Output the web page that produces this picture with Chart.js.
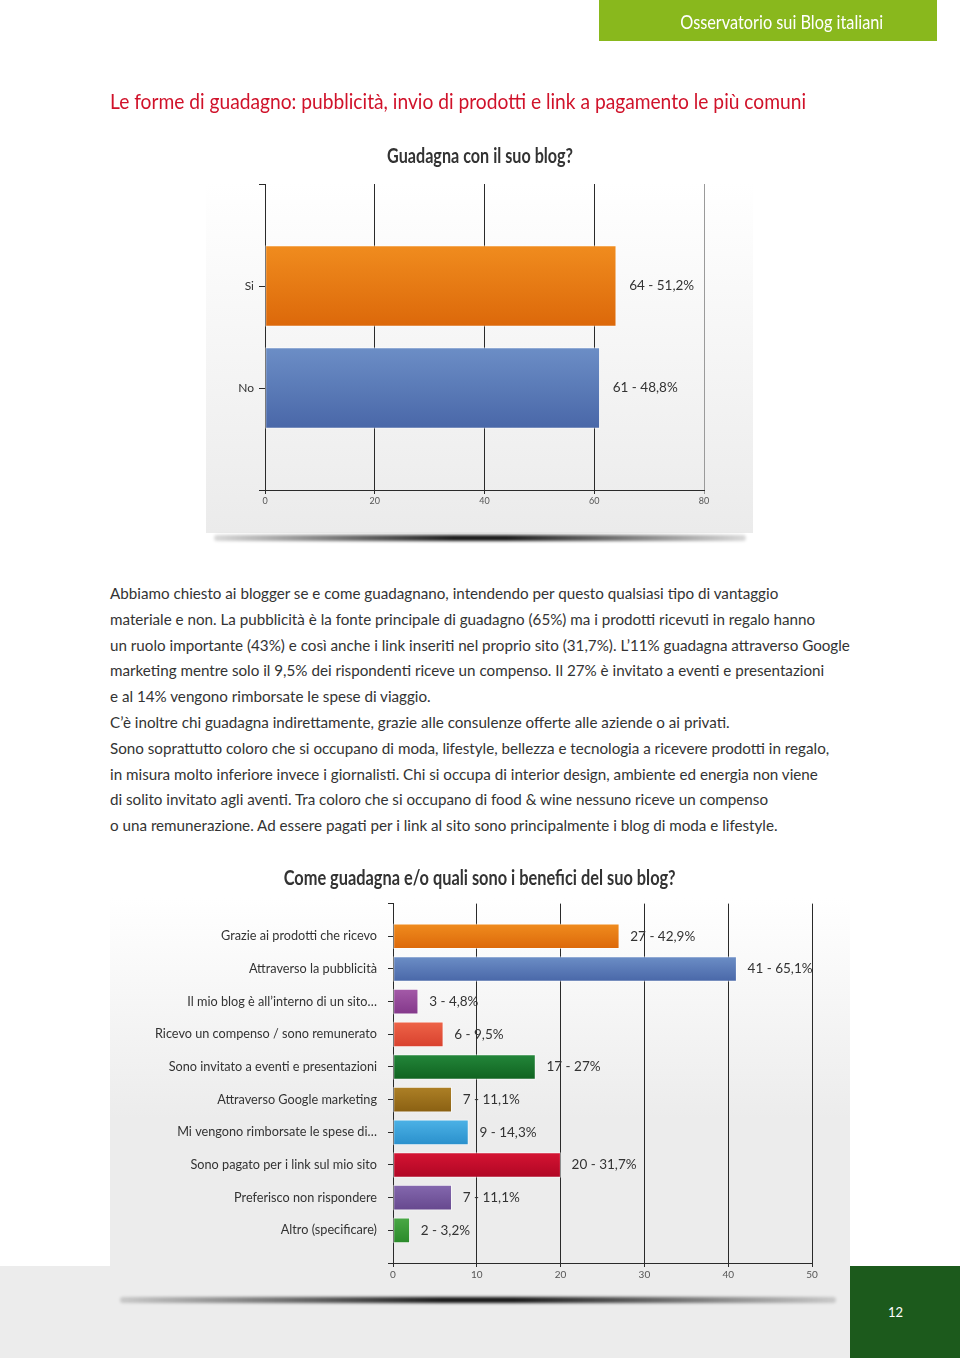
<!DOCTYPE html>
<html>
<head>
<meta charset="utf-8">
<script src="https://cdn.jsdelivr.net/npm/chart.js@4/dist/chart.umd.min.js"></script>
<style>
  html, body { margin: 0; padding: 0; }
  body { width: 960px; height: 1358px; position: relative; background: #fff; overflow: hidden;
         font-family: Lato, "Open Sans", sans-serif; color: #333; }
  .abs { position: absolute; }
  .fit { display: inline-block; white-space: nowrap; }
  #header { left: 599px; top: 0; width: 338px; height: 41px; background: #89b81d; }
  #header span { position: absolute; right: 54px; top: 9px; color: #fff; font-size: 20px; transform-origin: right center; }
  #title { left: 110px; top: 88px; color: #d0122a; font-size: 21px; transform-origin: left center; }
  .ctitle { width: 960px; left: 0; text-align: center; }
  .ctitle span { font-weight: bold; font-size: 20px; color: #333; transform-origin: center center; }
  .panel { background: linear-gradient(#ffffff, #ebebeb); }
  .shadow { height: 6px; background: linear-gradient(90deg, rgba(0,0,0,0.15), rgba(0,0,0,0.9) 45%, rgba(0,0,0,0.9) 55%, rgba(0,0,0,0.15)); filter: blur(1.5px); border-radius: 3px; }
  #text { left: 110px; top: 581px; font-size: 15.2px; line-height: 25.8px; white-space: nowrap; color: #333; }
  #band { left: 0; top: 1266px; width: 960px; height: 92px; background: #ececec; }
  #pagebox { left: 850px; top: 1266px; width: 110px; height: 92px; background: #1c5a1c; color: #fff; font-size: 13px; }
  #pagebox span { position: absolute; left: 38px; top: 38px; }
  canvas { position: absolute; }
</style>
</head>
<body>
<div id="header" class="abs"><span class="fit" data-w="203">Osservatorio sui Blog italiani</span></div>
<div id="title" class="abs fit" data-w="696">Le forme di guadagno: pubblicità, invio di prodotti e link a pagamento le più comuni</div>

<div class="abs ctitle" style="top:143px"><span class="fit" data-w="186">Guadagna con il suo blog?</span></div>
<div class="abs panel" style="left:206px; top:183px; width:547px; height:350px"></div>
<div class="abs shadow" style="left:214px; top:535px; width:532px"></div>
<canvas id="blogChart" width="547" height="363" style="left:206px; top:170px"></canvas>

<div id="text" class="abs">
Abbiamo chiesto ai blogger se e come guadagnano, intendendo per questo qualsiasi tipo di vantaggio<br>
materiale e non. La pubblicità è la fonte principale di guadagno (65%) ma i prodotti ricevuti in regalo hanno<br>
un ruolo importante (43%) e così anche i link inseriti nel proprio sito (31,7%). L’11% guadagna attraverso Google<br>
marketing mentre solo il 9,5% dei rispondenti riceve un compenso. Il 27% è invitato a eventi e presentazioni<br>
e al 14% vengono rimborsate le spese di viaggio.<br>
C’è inoltre chi guadagna indirettamente, grazie alle consulenze offerte alle aziende o ai privati.<br>
Sono soprattutto coloro che si occupano di moda, lifestyle, bellezza e tecnologia a ricevere prodotti in regalo,<br>
in misura molto inferiore invece i giornalisti. Chi si occupa di interior design, ambiente ed energia non viene<br>
di solito invitato agli aventi. Tra coloro che si occupano di food &amp; wine nessuno riceve un compenso<br>
o una remunerazione. Ad essere pagati per i link al sito sono principalmente i blog di moda e lifestyle.
</div>

<div class="abs ctitle" style="top:865px"><span class="fit" data-w="392">Come guadagna e/o quali sono i benefici del suo blog?</span></div>
<div id="band" class="abs"></div>
<div class="abs panel" style="left:110px; top:898px; width:740px; height:368px; background: linear-gradient(#ffffff, #ececec 60%, #ececec)"></div>
<div class="abs shadow" style="left:120px; top:1297px; width:716px"></div>
<canvas id="benefitChart" width="740" height="405" style="left:110px; top:885px"></canvas>
<div id="pagebox" class="abs"><span>12</span></div>

<script>
// dati: prima domanda
const blogAnswers = ['Si', 'No'];
const blogCounts = [64, 61];
const blogShares = ['51,2%', '48,8%'];
const blogTicks = [0, 20, 40, 60, 80];

// dati: seconda domanda
const benefitLabels = [
  'Grazie ai prodotti che ricevo',
  'Attraverso la pubblicità',
  'Il mio blog è all’interno di un sito…',
  'Ricevo un compenso / sono remunerato',
  'Sono invitato a eventi e presentazioni',
  'Attraverso Google marketing',
  'Mi vengono rimborsate le spese di…',
  'Sono pagato per i link sul mio sito',
  'Preferisco non rispondere',
  'Altro (specificare)'
];
const benefitCounts = [27, 41, 3, 6, 17, 7, 9, 20, 7, 2];
const benefitShares = ['42,9%', '65,1%', '4,8%', '9,5%', '27%', '11,1%', '14,3%', '31,7%', '11,1%', '3,2%'];
const benefitTicks = [0, 10, 20, 30, 40, 50];

// colori (alto, basso) per il gradiente delle barre
const blogColors = [['#f08c1e', '#dc680a'], ['#6c8ec6', '#4967a8']];
const benefitColors = [
  ['#f08c1e', '#dc680a'], ['#6c8ec6', '#4967a8'], ['#a45aa8', '#83388a'],
  ['#ee6448', '#d8412e'], ['#23863a', '#106320'], ['#ad8026', '#8a6012'],
  ['#4cb2e6', '#2a90cc'], ['#d51433', '#b00624'], ['#8468ae', '#66488e'],
  ['#4aa845', '#2a8a2a']
];

// i titoli sono in un font condensato: li stringo alla larghezza dell'originale
document.querySelectorAll('.fit').forEach(el => {
  const w = el.getBoundingClientRect().width;
  el.style.transform = 'scaleX(' + (el.dataset.w / w) + ')';
});

// le etichette vuote servono a lasciare spazio sopra e sotto le barre
function pad(arr, fill) { return [fill].concat(arr, [fill]); }

function barFill(colors, thickness) {
  return (c) => {
    const col = colors[c.dataIndex];
    if (!col) return 'transparent';
    const chart = c.chart;
    const y = chart.scales.y;
    if (!chart.chartArea || !y) return col[0];
    const py = y.getPixelForValue(c.dataIndex);
    const g = chart.ctx.createLinearGradient(0, py - thickness / 2, 0, py + thickness / 2);
    g.addColorStop(0, col[0]);
    g.addColorStop(1, col[1]);
    return g;
  };
}

function valueLabels(counts, shares, gap, size) {
  return {
    id: 'valueLabels',
    afterDatasetsDraw(chart) {
      const ctx = chart.ctx;
      const meta = chart.getDatasetMeta(0);
      ctx.save();
      ctx.font = size + 'px Lato, "Open Sans", sans-serif';
      ctx.fillStyle = '#333';
      ctx.textBaseline = 'middle';
      meta.data.forEach((bar, i) => {
        if (i === 0 || i > counts.length) return;
        ctx.fillText(counts[i - 1] + ' - ' + shares[i - 1], bar.x + gap, bar.y);
      });
      ctx.restore();
    }
  };
}

function makeChart(id, labels, counts, shares, ticks, colors, opts) {
  const max = ticks[ticks.length - 1];
  return new Chart(document.getElementById(id), {
    type: 'bar',
    data: {
      labels: pad(labels, ''),
      datasets: [{
        data: pad(counts, null),
        backgroundColor: barFill(pad(colors, null), opts.thickness),
        borderColor: 'rgba(255,255,255,0.55)',
        borderWidth: 1,
        borderSkipped: false,
        barThickness: opts.thickness
      }]
    },
    options: {
      indexAxis: 'y',
      responsive: false,
      animation: false,
      layout: { padding: opts.padding },
      plugins: { legend: { display: false }, tooltip: { enabled: false } },
      scales: {
        x: {
          min: 0, max: max,
          afterBuildTicks: (s) => { s.ticks = ticks.map(v => ({ value: v })); },
          afterFit: (s) => { s.height = 20; },
          grid: { color: (c) => c.index === ticks.length - 1 ? opts.lastLine : '#2a2a2a', tickLength: 4 },
          border: { color: '#2a2a2a' },
          ticks: { color: '#555', padding: 2, font: { family: 'Lato, sans-serif', size: opts.tickSize } }
        },
        y: {
          type: 'category',
          offset: false,
          afterFit: (s) => { s.width = opts.axisWidth; },
          grid: { offset: false, drawOnChartArea: false, tickLength: opts.tickLength, color: '#2a2a2a' },
          border: { color: '#2a2a2a' },
          ticks: { color: '#333', padding: opts.labelPad, autoSkip: false, font: { family: 'Lato, sans-serif', size: opts.labelSize } }
        }
      }
    },
    plugins: [valueLabels(counts, shares, opts.gap, opts.valueSize)]
  });
}

makeChart('blogChart', blogAnswers, blogCounts, blogShares, blogTicks, blogColors, {
  thickness: 81, padding: { left: 0, top: 14, right: 49, bottom: 23 },
  axisWidth: 59, tickLength: 6, labelPad: 5, labelSize: 12,
  tickSize: 9, lastLine: '#9a9a9a', gap: 13, valueSize: 13.5
});

makeChart('benefitChart', benefitLabels, benefitCounts, benefitShares, benefitTicks, benefitColors, {
  thickness: 25, padding: { left: 0, top: 8, right: 38, bottom: 7 },
  axisWidth: 283, tickLength: 5, labelPad: 11, labelSize: 12.7,
  tickSize: 10, lastLine: '#2a2a2a', gap: 11, valueSize: 13.5
});
</script>
</body>
</html>
